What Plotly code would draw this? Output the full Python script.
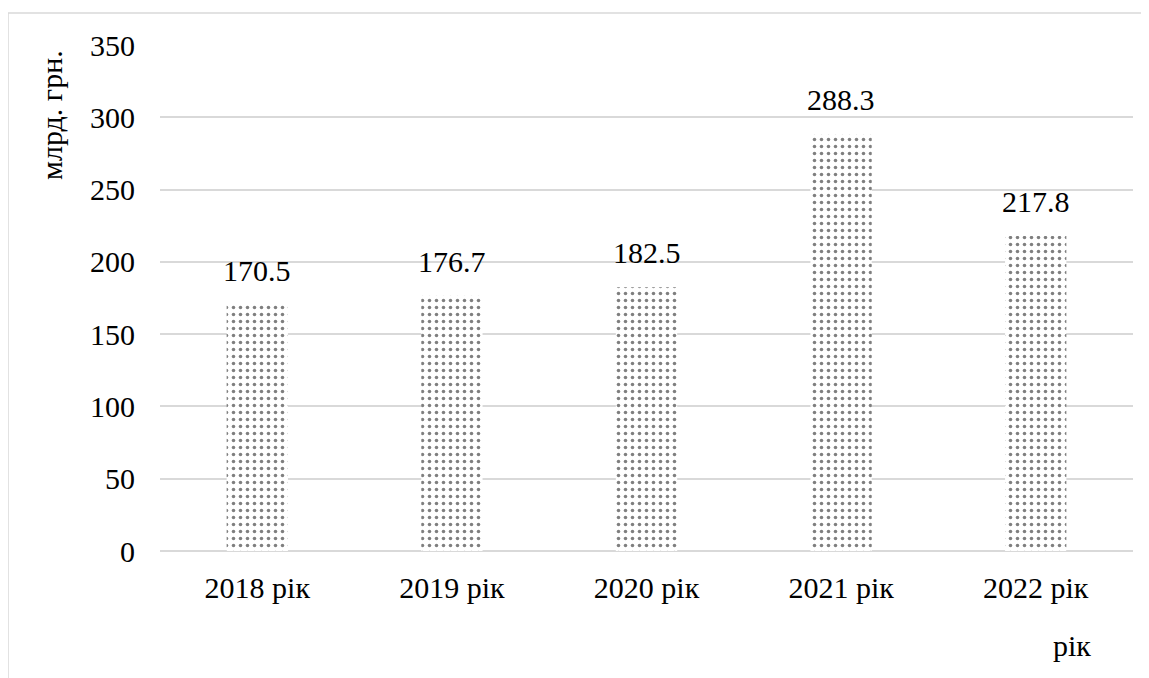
import plotly.graph_objects as go

categories = ["2018 рік", "2019 рік", "2020 рік", "2021 рік", "2022 рік"]
values = [170.5, 176.7, 182.5, 288.3, 217.8]
y_title = "млрд. грн."
x_title = "рік"

FONT = "Liberation Serif"
FS = 30

fig = go.Figure()
fig.add_trace(go.Bar(
    x=categories, y=values,
    marker=dict(color="white", line=dict(width=0),
                pattern=dict(shape=".", fgcolor="black", bgcolor="white",
                             size=7, solidity=0.2)),
    hoverinfo="skip",
))

# page offset (body margin 8px)
OFF = 8
W, H = 1149 - OFF, 678 - OFF
# desired page-pixel plot area: x 160..1133, y 45..551
L, R, T, B = 160 - OFF, 1149 - 1133, 45 - OFF, 678 - 551
pw, ph = W - L - R, H - T - B

def px(x):
    return (x - OFF - L) / pw

def py(y):
    return (H - B - (y - OFF)) / ph

annotations = [
    dict(text=f"{v:.1f}", x=c, y=v, xref="x", yref="y", showarrow=False,
         yanchor="bottom", yshift=16, font=dict(family=FONT, size=FS, color="black"))
    for c, v in zip(categories, values)
]
annotations += [
    dict(text=y_title, x=px(52), y=py(115), xref="paper", yref="paper",
         textangle=-90, showarrow=False, font=dict(family=FONT, size=FS),
         xanchor="center", yanchor="middle"),
    dict(text=x_title, x=px(1072), y=py(645), xref="paper", yref="paper",
         showarrow=False, font=dict(family=FONT, size=FS),
         xanchor="center", yanchor="middle"),
]

fig.update_layout(
    width=W, height=H,
    margin=dict(l=L, r=R, t=T, b=B),
    paper_bgcolor="white", plot_bgcolor="white",
    bargap=0.685, showlegend=False,
    font=dict(family=FONT, size=FS, color="black"),
    xaxis=dict(showline=False, ticks="", tickfont=dict(family=FONT, size=FS),
               ticklabelstandoff=16),
    yaxis=dict(range=[0, 350], dtick=50, showgrid=True, gridcolor="#d9d9d9",
               gridwidth=1.5, zeroline=True, zerolinecolor="#d9d9d9", zerolinewidth=1.5,
               ticks="", tickfont=dict(family=FONT, size=FS), ticklabelstandoff=24),
    annotations=annotations,
    shapes=[
        dict(type="rect", xref="paper", yref="paper",
             x0=px(8), x1=px(1170), y0=py(720), y1=py(13),
             line=dict(color="#d9d9d9", width=1.5), fillcolor="rgba(0,0,0,0)",
             layer="below"),
    ],
)

fig.write_html("out.html")
